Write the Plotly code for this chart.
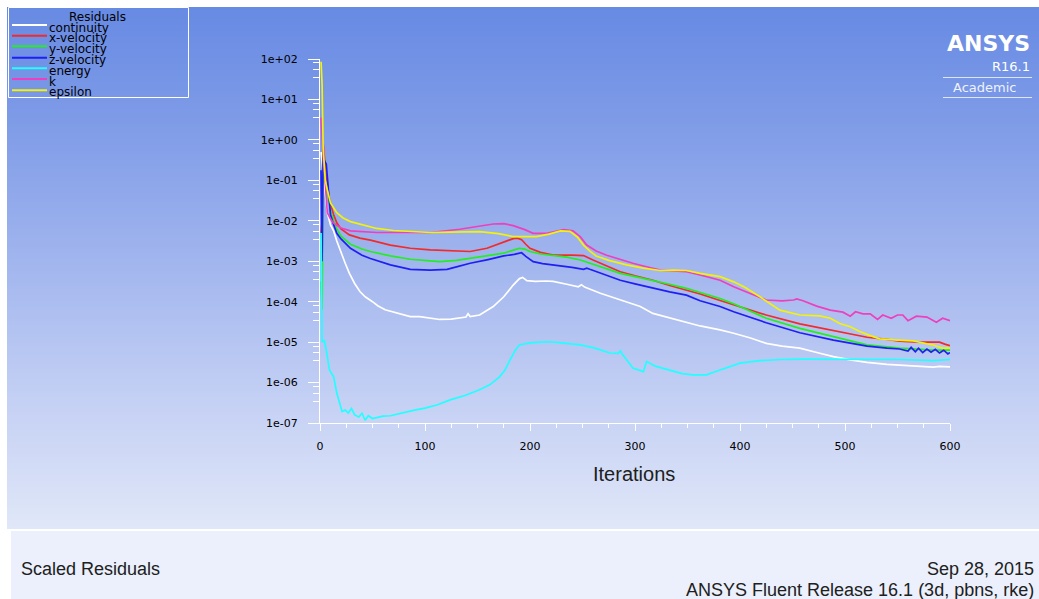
import plotly.graph_objects as go

W, H = 1039, 599

# ---------------- data ----------------
iter_continuity = [1, 4, 7, 10, 13, 16, 20, 24, 28, 33, 38, 43, 50, 55, 62, 70, 78, 86, 95, 105, 114, 125, 135, 139, 141, 143, 152, 160, 165, 175, 184, 190, 193, 197, 205, 215, 222, 235, 246, 249, 252, 267, 280, 295, 305, 317, 330, 349, 362, 381, 394, 410, 425, 440, 457, 475, 489, 505, 521, 540, 552, 570, 584, 590, 600]
res_continuity = [5.0e-1, 1.0e-1, 1.58e-2, 7.94e-3, 5.62e-3, 3.16e-3, 1.58e-3, 8.91e-4, 5.01e-4, 2.82e-4, 1.78e-4, 1.32e-4, 1.0e-4, 7.94e-5, 6.31e-5, 5.5e-5, 5.01e-5, 4.27e-5, 4.27e-5, 3.98e-5, 3.63e-5, 3.72e-5, 3.98e-5, 4.17e-5, 5.01e-5, 4.27e-5, 4.68e-5, 6.31e-5, 7.59e-5, 1.32e-4, 2.57e-4, 3.72e-4, 3.98e-4, 3.31e-4, 3.16e-4, 3.24e-4, 3.16e-4, 2.69e-4, 2.34e-4, 2.63e-4, 2.29e-4, 1.62e-4, 1.26e-4, 9.12e-5, 7.59e-5, 5.13e-5, 4.17e-5, 3.16e-5, 2.51e-5, 2.0e-5, 1.66e-5, 1.26e-5, 9.33e-6, 7.94e-6, 7.08e-6, 5.37e-6, 4.37e-6, 3.63e-6, 3.16e-6, 2.82e-6, 2.69e-6, 2.51e-6, 2.40e-6, 2.51e-6, 2.45e-6]

iter_xvel = [1, 2, 3, 4, 5, 6, 8, 10, 13, 16, 20, 28, 38, 48, 67, 86, 105, 125, 143, 159, 175, 184, 188, 192, 196, 200, 210, 222, 240, 251, 260, 272, 286, 300, 317, 333, 349, 362, 381, 394, 425, 457, 489, 505, 521, 540, 552, 570, 584, 590, 595, 600]
res_xvel = [5.01e-3, 1.0e-2, 7.94e-1, 3.98e-1, 2.51e-1, 1.26e-1, 5.01e-2, 2.51e-2, 1.41e-2, 8.91e-3, 6.31e-3, 4.47e-3, 3.72e-3, 3.31e-3, 2.51e-3, 2.09e-3, 1.91e-3, 1.78e-3, 1.74e-3, 2.09e-3, 3.02e-3, 3.63e-3, 3.72e-3, 3.39e-3, 2.63e-3, 2.09e-3, 1.66e-3, 1.41e-3, 1.41e-3, 1.38e-3, 1.07e-3, 7.94e-4, 5.5e-4, 4.37e-4, 3.39e-4, 2.51e-4, 1.95e-4, 1.55e-4, 1.07e-4, 8.32e-5, 4.68e-5, 2.82e-5, 1.91e-5, 1.58e-5, 1.32e-5, 1.17e-5, 1.05e-5, 1.0e-5, 9.77e-6, 1.0e-5, 8.91e-6, 8.13e-6]

iter_yvel = [1, 2, 3, 5, 7, 10, 13, 16, 20, 29, 40, 48, 67, 86, 105, 114, 130, 143, 160, 175, 185, 190, 195, 200, 210, 222, 235, 248, 265, 286, 300, 317, 333, 349, 362, 381, 394, 425, 457, 489, 521, 552, 584, 600]
res_yvel = [3.16e-4, 6.31e-5, 3.16e-1, 1.0e-1, 5.01e-2, 1.78e-2, 1.0e-2, 6.31e-3, 4.17e-3, 2.63e-3, 2.0e-3, 1.74e-3, 1.35e-3, 1.12e-3, 1.02e-3, 9.77e-4, 1.05e-3, 1.17e-3, 1.35e-3, 1.58e-3, 1.91e-3, 2.09e-3, 2.0e-3, 1.74e-3, 1.51e-3, 1.41e-3, 1.26e-3, 1.07e-3, 7.59e-4, 5.01e-4, 4.17e-4, 3.39e-4, 2.69e-4, 2.14e-4, 1.70e-4, 1.20e-4, 8.91e-5, 3.89e-5, 2.19e-5, 1.35e-5, 8.51e-6, 7.08e-6, 6.31e-6, 6.31e-6]

iter_zvel = [1, 2, 3, 4, 6, 8, 10, 13, 16, 20, 29, 40, 48, 67, 86, 105, 121, 130, 143, 160, 175, 185, 192, 196, 203, 212, 222, 240, 251, 254, 257, 270, 286, 300, 317, 333, 349, 362, 381, 394, 425, 457, 489, 505, 521, 540, 552, 560, 563, 567, 570, 574, 578, 582, 586, 590, 594, 598, 600]
res_zvel = [1.78e-1, 1.0e-3, 5.01e-1, 3.16e-1, 2.51e-1, 5.01e-2, 1.41e-2, 7.94e-3, 4.9e-3, 3.55e-3, 2.09e-3, 1.41e-3, 1.17e-3, 8.13e-4, 6.31e-4, 6.03e-4, 6.31e-4, 7.24e-4, 8.91e-4, 1.10e-3, 1.35e-3, 1.48e-3, 1.62e-3, 1.32e-3, 9.77e-4, 8.71e-4, 8.13e-4, 7.08e-4, 6.31e-4, 6.76e-4, 6.31e-4, 4.79e-4, 3.39e-4, 2.75e-4, 2.14e-4, 1.74e-4, 1.45e-4, 1.05e-4, 7.59e-5, 5.62e-5, 3.02e-5, 1.70e-5, 1.12e-5, 9.55e-6, 7.94e-6, 7.08e-6, 6.76e-6, 6.03e-6, 7.41e-6, 5.75e-6, 7.08e-6, 5.5e-6, 6.76e-6, 5.62e-6, 6.61e-6, 5.37e-6, 6.31e-6, 5.13e-6, 5.5e-6]

iter_energy = [1, 2, 4, 6, 9, 13, 16, 21, 24, 27, 30, 33, 37, 40, 43, 46, 50, 55, 60, 67, 80, 90, 100, 112, 124, 138, 152, 162, 171, 176, 181, 186, 190, 195, 200, 210, 219, 230, 248, 262, 276, 284, 286, 288, 298, 308, 311, 320, 333, 345, 355, 368, 381, 400, 419, 438, 460, 489, 520, 552, 584, 600]
res_energy = [5.01e-3, 1.0e-5, 1.12e-5, 6.31e-6, 2.04e-6, 1.38e-6, 5.5e-7, 1.91e-7, 2.09e-7, 1.78e-7, 2.29e-7, 1.58e-7, 1.41e-7, 1.74e-7, 1.17e-7, 1.51e-7, 1.29e-7, 1.38e-7, 1.48e-7, 1.51e-7, 1.86e-7, 2.09e-7, 2.34e-7, 2.82e-7, 3.72e-7, 4.79e-7, 6.61e-7, 8.91e-7, 1.38e-6, 2.0e-6, 3.63e-6, 6.31e-6, 8.51e-6, 9.12e-6, 9.55e-6, 1.0e-5, 1.02e-5, 9.55e-6, 8.51e-6, 7.08e-6, 5.37e-6, 5.25e-6, 6.03e-6, 5.01e-6, 2.29e-6, 1.86e-6, 3.31e-6, 2.51e-6, 2.04e-6, 1.66e-6, 1.55e-6, 1.55e-6, 2.04e-6, 3.02e-6, 3.47e-6, 3.72e-6, 3.80e-6, 3.80e-6, 3.80e-6, 3.72e-6, 3.47e-6, 3.72e-6]

iter_k = [1, 2, 3, 4, 5, 6, 7, 10, 13, 20, 29, 54, 86, 105, 133, 150, 165, 175, 184, 195, 203, 216, 225, 232, 241, 248, 254, 263, 273, 285, 298, 310, 324, 336, 349, 362, 381, 394, 410, 425, 440, 451, 454, 460, 473, 486, 498, 505, 510, 517, 524, 531, 536, 544, 550, 555, 560, 568, 578, 587, 593, 600]
res_k = [3.55e0, 7.94e-1, 3.98e-1, 2.0e-1, 7.94e-2, 3.16e-2, 1.58e-2, 1.12e-2, 8.71e-3, 6.61e-3, 5.62e-3, 5.13e-3, 5.13e-3, 5.13e-3, 6.17e-3, 7.08e-3, 8.32e-3, 8.51e-3, 7.59e-3, 6.03e-3, 4.9e-3, 4.9e-3, 5.5e-3, 6.03e-3, 5.62e-3, 3.98e-3, 2.51e-3, 1.78e-3, 1.41e-3, 1.12e-3, 8.91e-4, 7.41e-4, 6.03e-4, 5.75e-4, 5.5e-4, 4.57e-4, 3.39e-4, 2.34e-4, 1.58e-4, 1.10e-4, 1.05e-4, 1.10e-4, 1.17e-4, 1.05e-4, 7.76e-5, 6.17e-5, 5.5e-5, 4.37e-5, 5.62e-5, 5.01e-5, 5.01e-5, 3.63e-5, 4.68e-5, 3.89e-5, 4.68e-5, 4.68e-5, 3.39e-5, 4.37e-5, 4.17e-5, 3.09e-5, 3.89e-5, 3.39e-5]

iter_epsilon = [1, 2, 3, 4, 5, 7, 10, 16, 22, 29, 40, 54, 70, 86, 105, 125, 152, 170, 184, 206, 218, 229, 238, 245, 251, 257, 263, 275, 292, 308, 324, 336, 349, 362, 381, 394, 405, 419, 430, 438, 457, 476, 486, 495, 505, 514, 524, 533, 550, 565, 584, 593, 600]
res_epsilon = [8.51e1, 2.29e1, 6.61e-1, 2.51e-1, 1.0e-1, 5.75e-2, 2.75e-2, 1.58e-2, 1.17e-2, 9.55e-3, 7.94e-3, 6.46e-3, 5.75e-3, 5.37e-3, 5.13e-3, 5.25e-3, 5.37e-3, 4.79e-3, 4.07e-3, 4.07e-3, 4.68e-3, 5.62e-3, 5.5e-3, 3.98e-3, 2.51e-3, 1.78e-3, 1.35e-3, 1.05e-3, 8.13e-4, 6.76e-4, 5.89e-4, 6.03e-4, 5.89e-4, 5.01e-4, 4.17e-4, 3.09e-4, 2.24e-4, 1.32e-4, 8.32e-5, 6.17e-5, 4.68e-5, 4.47e-5, 3.89e-5, 2.88e-5, 2.40e-5, 1.82e-5, 1.45e-5, 1.20e-5, 1.12e-5, 1.07e-5, 8.51e-6, 7.08e-6, 7.08e-6]

series_names = ["continuity", "x-velocity", "y-velocity", "z-velocity", "energy", "k", "epsilon"]
series_colors = ["#ffffff", "#f22a2a", "#22ee22", "#1f1ff5", "#22ffff", "#ee3fbe", "#f2f20a"]
series_iters = [iter_continuity, iter_xvel, iter_yvel, iter_zvel, iter_energy, iter_k, iter_epsilon]
series_values = [res_continuity, res_xvel, res_yvel, res_zvel, res_energy, res_k, res_epsilon]

x_ticks = [0, 100, 200, 300, 400, 500, 600]
y_tick_vals = [1e-7, 1e-6, 1e-5, 1e-4, 1e-3, 1e-2, 1e-1, 1e0, 1e1, 1e2]
y_tick_text = ["1e-07", "1e-06", "1e-05", "1e-04", "1e-03", "1e-02", "1e-01", "1e+00", "1e+01", "1e+02"]

# ---------------- figure ----------------
def px(x):
    return x / W

def py(y):
    return 1 - y / H

fig = go.Figure()
for name, it, val, col in zip(series_names, series_iters, series_values, series_colors):
    fig.add_trace(go.Scatter(x=it, y=val, mode="lines", name=name,
                             line=dict(color=col, width=1.7),
                             showlegend=False, hoverinfo="skip"))

shapes = []
# background gradient (blue at top, pale at bottom)
stops = [(7, (103, 138, 227)), (120, (126, 155, 231)), (260, (161, 181, 238)),
         (400, (196, 208, 244)), (529, (224, 231, 248))]

def grad(y):
    for (y0, c0), (y1, c1) in zip(stops[:-1], stops[1:]):
        if y0 <= y <= y1:
            t = (y - y0) / (y1 - y0)
            return tuple(round(a + (b - a) * t) for a, b in zip(c0, c1))
    return stops[-1][1]

step = 3
y = 7
while y < 529:
    c = grad(y + step / 2)
    shapes.append(dict(type="rect", xref="paper", yref="paper", layer="below",
                       x0=px(7), x1=1, y0=py(min(y + step + 0.6, 529)), y1=py(y),
                       fillcolor="rgb(%d,%d,%d)" % c, line=dict(width=0)))
    y += step

# footer panel
shapes.append(dict(type="rect", xref="paper", yref="paper", layer="below",
                   x0=px(9), x1=1, y0=0, y1=py(529),
                   fillcolor="rgb(235,240,252)", line=dict(width=0)))
shapes.append(dict(type="line", xref="paper", yref="paper", layer="below",
                   x0=px(9), x1=1, y0=py(530), y1=py(530),
                   line=dict(color="white", width=2)))
shapes.append(dict(type="line", xref="paper", yref="paper", layer="below",
                   x0=px(10), x1=px(10), y0=0, y1=py(530),
                   line=dict(color="white", width=2)))

# legend box
shapes.append(dict(type="rect", xref="paper", yref="paper", layer="above",
                   x0=px(8.5), x1=px(188.5), y0=py(97.5), y1=py(7.5),
                   line=dict(color="white", width=1), fillcolor="rgba(0,0,0,0)"))
legend_line_y = [25, 35.7, 46.3, 57.7, 68.3, 79, 90.3]
legend_text_y = [28, 38.5, 49, 60, 71, 81.5, 92]
annotations = []
for name, col, ly, ty in zip(series_names, series_colors, legend_line_y, legend_text_y):
    shapes.append(dict(type="line", xref="paper", yref="paper", layer="above",
                       x0=px(12), x1=px(47), y0=py(ly), y1=py(ly),
                       line=dict(color=col, width=2)))
    annotations.append(dict(text=name, xref="paper", yref="paper", x=px(47), y=py(ty),
                            xanchor="left", yanchor="middle", showarrow=False,
                            font=dict(family="DejaVu Sans", size=12, color="black")))
annotations.append(dict(text="Residuals", xref="paper", yref="paper", x=px(97), y=py(16.5),
                        xanchor="center", yanchor="middle", showarrow=False,
                        font=dict(family="DejaVu Sans", size=12, color="black")))

# ANSYS logo
annotations.append(dict(text="<b>ANSYS</b>", xref="paper", yref="paper", x=px(1032), y=py(43),
                        xanchor="right", yanchor="middle", showarrow=False,
                        font=dict(family="DejaVu Sans", size=22, color="white")))
annotations.append(dict(text="R16.1", xref="paper", yref="paper", x=px(1032), y=py(66),
                        xanchor="right", yanchor="middle", showarrow=False,
                        font=dict(family="DejaVu Sans", size=13, color="white")))
annotations.append(dict(text="Academic", xref="paper", yref="paper", x=px(984), y=py(88),
                        xanchor="center", yanchor="middle", showarrow=False,
                        font=dict(family="DejaVu Sans", size=13, color="rgb(238,242,252)")))
for ly in (77.5, 97.5):
    shapes.append(dict(type="line", xref="paper", yref="paper", layer="above",
                       x0=px(943), x1=px(1032), y0=py(ly), y1=py(ly),
                       line=dict(color="rgba(255,255,255,0.75)", width=1)))

# axis title
annotations.append(dict(text="Iterations", xref="paper", yref="paper", x=px(634), y=py(474),
                        xanchor="center", yanchor="middle", showarrow=False,
                        font=dict(family="Liberation Sans", size=20, color="#202020")))

# footer texts
annotations.append(dict(text="Scaled Residuals", xref="paper", yref="paper", x=px(19), y=py(569),
                        xanchor="left", yanchor="middle", showarrow=False,
                        font=dict(family="Liberation Sans", size=18, color="#202020")))
annotations.append(dict(text="Sep 28, 2015", xref="paper", yref="paper", x=px(1036), y=py(569),
                        xanchor="right", yanchor="middle", showarrow=False,
                        font=dict(family="Liberation Sans", size=18, color="#202020")))
annotations.append(dict(text="ANSYS Fluent Release 16.1 (3d, pbns, rke)", xref="paper", yref="paper",
                        x=px(1036), y=py(590), xanchor="right", yanchor="middle", showarrow=False,
                        font=dict(family="Liberation Sans", size=18, color="#202020")))

minor_y = []
for v in y_tick_vals:
    for f in (0.8, 0.55, 0.35):
        if v * f > 1e-7:
            minor_y.append(v * f)

fig.update_layout(
    width=W, height=H, autosize=False,
    margin=dict(l=0, r=0, t=0, b=0),
    paper_bgcolor="white", plot_bgcolor="rgba(0,0,0,0)",
    showlegend=False, hovermode=False,
    shapes=shapes, annotations=annotations,
    xaxis=dict(domain=[px(320), px(950)], range=[0, 600], tickmode="array", tickvals=x_ticks,
               showline=True, linecolor="white", linewidth=1, showgrid=False, zeroline=False,
               ticks="outside", ticklen=7, tickwidth=1, tickcolor="white",
               minor=dict(tickmode="linear", tick0=0, dtick=25, ticks="outside", ticklen=4,
                          tickwidth=1, tickcolor="white", showgrid=False),
               tickfont=dict(family="DejaVu Sans", size=11, color="black"),
               ticklabelstandoff=6, automargin=False, fixedrange=True),
    yaxis=dict(domain=[py(423), py(59)], type="log", range=[-7, 2],
               tickmode="array", tickvals=y_tick_vals, ticktext=y_tick_text,
               showline=True, linecolor="white", linewidth=1, showgrid=False, zeroline=False,
               ticks="outside", ticklen=11, tickwidth=1, tickcolor="white",
               minor=dict(tickmode="array", tickvals=minor_y, ticks="outside", ticklen=6,
                          tickwidth=1, tickcolor="white", showgrid=False),
               tickfont=dict(family="DejaVu Sans", size=11, color="black"),
               ticklabelstandoff=8, automargin=False, fixedrange=True),
)

fig.write_html("out.html", config={"displayModeBar": False, "staticPlot": True},
               post_script="document.body.style.margin='0';document.body.style.overflow='hidden';")
